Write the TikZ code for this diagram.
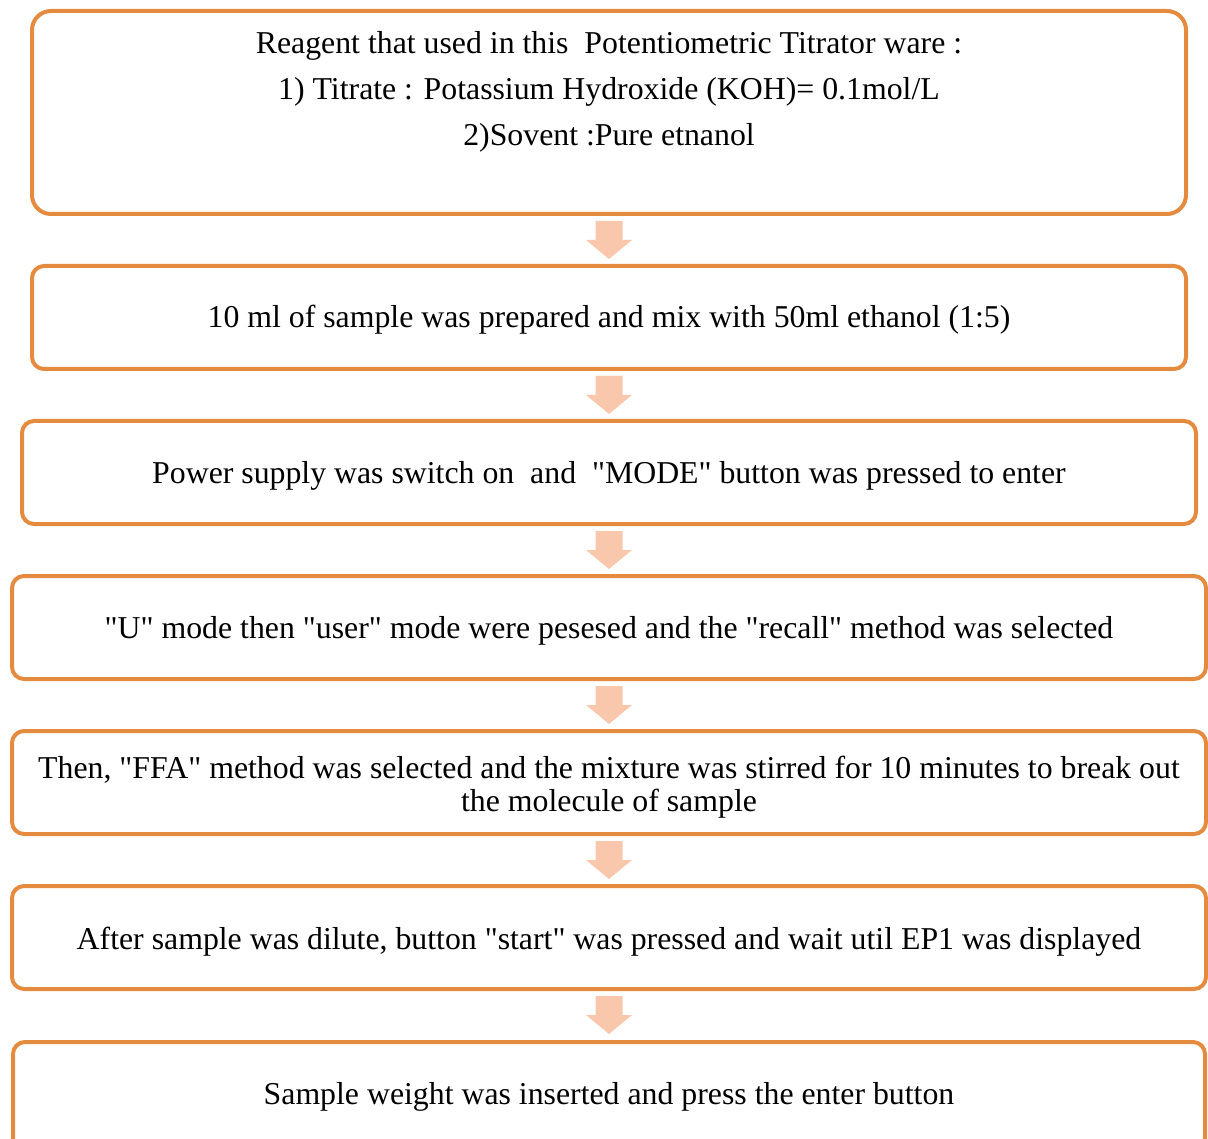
\documentclass[tikz,border=0pt]{standalone}
\usepackage{fontspec}
\setmainfont{Liberation Serif}[Ligatures=TeXOff]
\newcommand{\dq}{\symbol{34}}
\definecolor{boxorange}{RGB}{229,139,63}
\definecolor{arrowpeach}{RGB}{249,200,172}
\tikzset{
  flowbox/.style={draw=boxorange, line width=4pt, rounded corners=12pt},
  bigbox/.style={draw=boxorange, line width=4pt, rounded corners=19pt},
  txt/.style={anchor=base, inner sep=0pt, font=\fontsize{31.8}{33}\selectfont}
}
\newcommand{\blockarrow}[2]{% x center, top y
  \fill[arrowpeach] (#1-13.5,#2) -- (#1+13.5,#2) -- (#1+13.5,#2+19) -- (#1+23,#2+19)
    -- (#1,#2+38) -- (#1-23,#2+19) -- (#1-13.5,#2+19) -- cycle;}
\begin{document}
\begin{tikzpicture}[x=1pt,y=-1pt]
\useasboundingbox (0,0) rectangle (1208,1139);
\clip (0,0) rectangle (1208,1139);
% boxes
\draw[bigbox] (32,11) rectangle (1186,214);
\draw[flowbox] (32,266) rectangle (1186,369);
\draw[flowbox] (22,421) rectangle (1196,524);
\draw[flowbox] (12,576) rectangle (1206,679);
\draw[flowbox] (12,731) rectangle (1206,834);
\draw[flowbox] (12,886) rectangle (1206,989);
\draw[flowbox] (13,1042) rectangle (1205,1150);
% arrows
\blockarrow{609}{221}
\blockarrow{609}{376}
\blockarrow{609}{531}
\blockarrow{609}{686}
\blockarrow{609}{841}
\blockarrow{609}{996}
% texts
\node[txt] (t1a) at (609,54) {Reagent that used in this\ \ Potentiometric Titrator ware :};
\node[txt] (t1b) at (609,100) {1) Titrate : Potassium Hydroxide (KOH)= 0.1mol/L};
\node[txt] (t1c) at (609,146) {2)Sovent :Pure etnanol};
\node[txt] (t2) at (609,328) {10 ml of sample was prepared and mix with 50ml ethanol (1:5)};
\node[txt] (t3) at (609,483) {Power supply was switch on\ \ and\ \ \dq MODE\dq{} button was pressed to enter};
\node[txt] (t4) at (609,638) {\dq U\dq{} mode then \dq user\dq{} mode were pesesed and the \dq recall\dq{} method was selected};
\node[txt] (t5a) at (609,778) {Then, \dq FFA\dq{} method was selected and the mixture was stirred for 10 minutes to break out};
\node[txt] (t5b) at (609,811) {the molecule of sample};
\node[txt] (t6) at (609,949) {After sample was dilute, button \dq start\dq{} was pressed and wait util EP1 was displayed};
\node[txt] (t7) at (609,1104) {Sample weight was inserted and press the enter button};
\end{tikzpicture}
\end{document}
